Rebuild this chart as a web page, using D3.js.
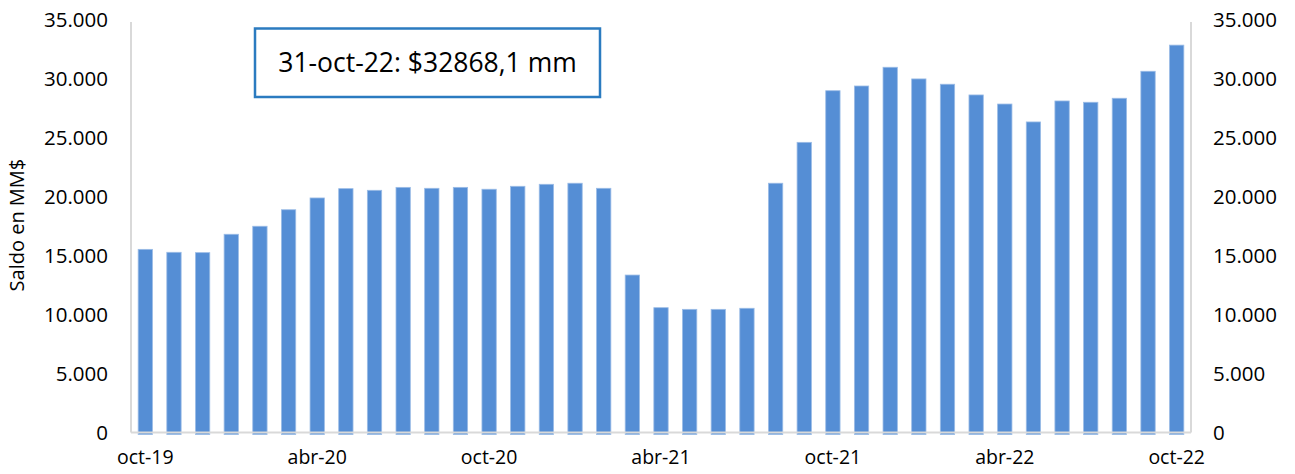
<!DOCTYPE html>
<html>
<head>
<meta charset="utf-8">
<script src="https://cdn.jsdelivr.net/npm/d3@7"></script>
<style>
  html, body { margin: 0; padding: 0; background: #fff; }
  svg { display: block; font-family: "Open Sans", sans-serif; }
</style>
</head>
<body>
<svg id="chart" width="1295" height="474"></svg>
<script>
// months oct-19 .. oct-22
var months = [
   "oct-19", "nov-19", "dic-19", "ene-20", "feb-20", "mar-20", "abr-20",
   "may-20", "jun-20", "jul-20", "ago-20", "sep-20", "oct-20", "nov-20",
   "dic-20", "ene-21", "feb-21", "mar-21", "abr-21", "may-21", "jun-21",
   "jul-21", "ago-21", "sep-21", "oct-21", "nov-21", "dic-21", "ene-22",
   "feb-22", "mar-22", "abr-22", "may-22", "jun-22", "jul-22", "ago-22",
   "sep-22", "oct-22"
];

// saldo en MM$
var saldo = [
   15540, 15290, 15260, 16820, 17500, 18900, 19900, 20690, 20550, 20800,
   20720, 20800, 20640, 20890, 21060, 21150, 20720, 13360, 10590, 10450,
   10450, 10540, 21150, 24620, 29000, 29400, 30990, 30000, 29550, 28640,
   27870, 26350, 28130, 28020, 28360, 30650, 32868.1
];

var xTickLabels = ["oct-19", "abr-20", "oct-20", "abr-21", "oct-21", "abr-22", "oct-22"];
var yTicks = [0, 5000, 10000, 15000, 20000, 25000, 30000, 35000];
var boxLabel = "31-oct-22";

var width = 1295,
   height = 474,
   margin = { top: 20, right: 104, bottom: 41.5, left: 131 };

var svg = d3.select("svg#chart");

var x = d3
   .scaleBand()
   .domain(months)
   .range([margin.left, width - margin.right])
   .paddingInner(0.5)
   .paddingOuter(0.25);

var y = d3
   .scaleLinear()
   .domain([0, 35000])
   .range([height - margin.bottom, margin.top]);

var fmt = d3.formatLocale({ decimal: ",", thousands: ".", grouping: [3], currency: ["$", ""] });
var tickFmt = fmt.format(",");

// bars
svg.append("g")
   .selectAll("rect")
   .data(saldo)
   .join("rect")
   .attr("x", (d, i) => x(months[i]))
   .attr("y", (d) => y(d))
   .attr("width", x.bandwidth())
   .attr("height", (d) => y(0) - y(d) + 2)
   .attr("fill", "#558ed5")
   .attr("stroke", "#9bbce6")
   .attr("stroke-width", 0.8);

// frame lines
var frame = svg.append("g").attr("stroke", "#d9d9d9").attr("stroke-width", 2).attr("fill", "none");
frame.append("line")
   .attr("x1", margin.left).attr("x2", margin.left)
   .attr("y1", y(35000) + 2).attr("y2", y(0));
frame.append("line")
   .attr("x1", width - margin.right).attr("x2", width - margin.right)
   .attr("y1", y(35000) + 2).attr("y2", y(0));
frame.append("line")
   .attr("x1", margin.left).attr("x2", width - margin.right)
   .attr("y1", y(0)).attr("y2", y(0));

// left axis
var yLeft = svg.append("g")
   .attr("transform", "translate(" + (margin.left - 23) + ",0)")
   .call(d3.axisLeft(y).tickValues(yTicks).tickFormat(tickFmt).tickSize(0).tickPadding(0));

// right axis
var yRight = svg.append("g")
   .attr("transform", "translate(" + (width - margin.right + 22) + ",0)")
   .call(d3.axisRight(y).tickValues(yTicks).tickFormat(tickFmt).tickSize(0).tickPadding(0));

// x axis
var xAxis = svg.append("g")
   .attr("transform", "translate(0," + (y(0) + 18) + ")")
   .call(d3.axisBottom(x).tickValues(xTickLabels).tickSize(0).tickPadding(0));

[yLeft, yRight, xAxis].forEach(function (g) {
   g.select(".domain").remove();
   g.selectAll("text")
      .attr("fill", "#000")
      .style("font-family", "'Open Sans', sans-serif")
      .style("font-size", "20.5px");
});
xAxis.selectAll("text").style("font-size", "19.5px");

// y title
svg.append("text")
   .attr("transform", "translate(24," + (y(17600)) + ") rotate(-90)")
   .attr("text-anchor", "middle")
   .attr("fill", "#000")
   .style("font-size", "20px")
   .text("Saldo en MM$");

// annotation box
var last = saldo[saldo.length - 1];
svg.append("rect")
   .attr("x", 255)
   .attr("y", 28.5)
   .attr("width", 345)
   .attr("height", 68.5)
   .attr("fill", "#fff")
   .attr("stroke", "#2b7bc0")
   .attr("stroke-width", 2.5);

svg.append("text")
   .attr("x", 427.5)
   .attr("y", 72)
   .attr("text-anchor", "middle")
   .attr("fill", "#000")
   .style("font-size", "26.5px")
   .text(boxLabel + ": $" + String(last).replace(".", ",") + " mm");
</script>
</body>
</html>
